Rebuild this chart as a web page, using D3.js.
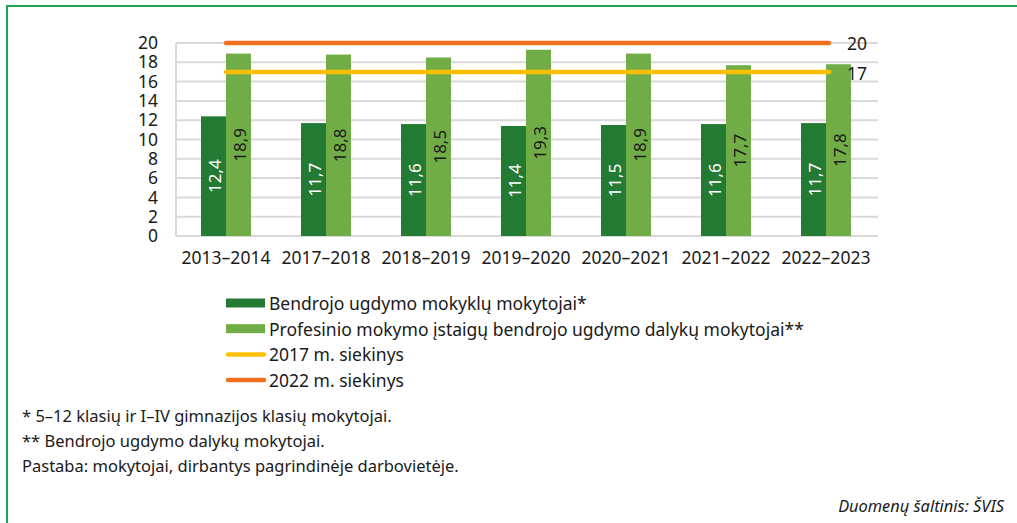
<!DOCTYPE html>
<html><head><meta charset="utf-8">
<script src="https://cdn.jsdelivr.net/npm/d3@7/dist/d3.min.js"></script>
<style>
html,body{margin:0;padding:0;background:#fff;}
svg{display:block;font-family:"Noto Sans",sans-serif;}
</style></head>
<body><svg id="c" width="1017" height="523"></svg>
<script>
const categories = ["2013–2014","2017–2018","2018–2019","2019–2020","2020–2021","2021–2022","2022–2023"];
const general = [12.4,11.7,11.6,11.4,11.5,11.6,11.7];
const vocational = [18.9,18.8,18.5,19.3,18.9,17.7,17.8];
const target2017 = 17;
const target2022 = 20;
const yTicks = [0,2,4,6,8,10,12,14,16,18,20];
const legendLabels = ["Bendrojo ugdymo mokyklų mokytojai*","Profesinio mokymo įstaigų bendrojo ugdymo dalykų mokytojai**","2017 m. siekinys","2022 m. siekinys"];
const notes = ["* 5–12 klasių ir I–IV gimnazijos klasių mokytojai.","** Bendrojo ugdymo dalykų mokytojai.","Pastaba: mokytojai, dirbantys pagrindinėje darbovietėje."];
const source = "Duomenų šaltinis: ŠVIS";

const C = {dark:"#237a33", light:"#70ad47", yellow:"#ffc000", orange:"#f07020", grid:"#d9d9d9", text:"#1a1a1a", border:"#1aa850"};
const fmt = v => String(v.toFixed(1)).replace(".", ",");

const svg = d3.select("#c");
// frame
svg.append("line").attr("x1",7).attr("x2",1017).attr("y1",6).attr("y2",6).attr("stroke",C.border).attr("stroke-width",2);
svg.append("line").attr("x1",7).attr("x2",7).attr("y1",5).attr("y2",523).attr("stroke",C.border).attr("stroke-width",2);

const L=176, R=876, T=43, B=236;
const x = d3.scaleBand().domain(categories).range([L,R]).paddingInner(0).paddingOuter(0);
const y = d3.scaleLinear().domain([0,20]).range([B,T]);
const xs = d3.scaleBand().domain([0,1]).range([0,x.bandwidth()]).paddingOuter(1).paddingInner(0);

// grid
const g = svg.append("g");
g.selectAll("line.grid").data(yTicks).join("line")
 .attr("x1",L).attr("x2",R+2).attr("y1",d=>y(d)).attr("y2",d=>y(d))
 .attr("stroke",C.grid).attr("stroke-width",2);
g.append("line").attr("x1",L).attr("x2",L).attr("y1",T).attr("y2",B).attr("stroke",C.grid).attr("stroke-width",2);

// y axis labels
const yAxis = d3.axisLeft(y).tickValues(yTicks).tickSize(0).tickPadding(18);
const ya = svg.append("g").attr("transform",`translate(${L},0)`).call(yAxis);
ya.select(".domain").remove();
ya.selectAll("text").attr("font-size",17.5).attr("fill",C.text).attr("font-family","Noto Sans");

// x axis labels
const xAxis = d3.axisBottom(x).tickSize(0).tickPadding(0);
const xa = svg.append("g").attr("transform",`translate(0,${B+16})`).call(xAxis);
xa.select(".domain").remove();
xa.selectAll("text").attr("font-size",17.5).attr("fill",C.text).attr("font-family","Noto Sans");

// bars
const series = [{vals:general,color:C.dark,tc:"#fff"},{vals:vocational,color:C.light,tc:C.text}];
series.forEach((s,i)=>{
  const gg = svg.append("g");
  gg.selectAll("rect").data(categories).join("rect")
    .attr("x",c=>x(c)+xs(i)).attr("width",xs.bandwidth())
    .attr("y",(c,j)=>y(s.vals[j])).attr("height",(c,j)=>B-y(s.vals[j]))
    .attr("fill",s.color);
  gg.selectAll("text").data(categories).join("text")
    .attr("transform",(c,j)=>`translate(${x(c)+xs(i)+xs.bandwidth()/2+1},${(y(s.vals[j])+B)/2}) rotate(-90)`)
    .attr("text-anchor","middle").attr("dominant-baseline","central")
    .attr("font-size",17).attr("fill",s.tc).text((c,j)=>fmt(s.vals[j]));
});

// target lines
const x0 = x(categories[0])+x.bandwidth()/2, x1 = x(categories[categories.length-1])+x.bandwidth()/2+3;
[[target2022,C.orange],[target2017,C.yellow]].forEach(([v,col])=>{
  svg.append("line").attr("x1",x0).attr("x2",x1).attr("y1",y(v)).attr("y2",y(v))
    .attr("stroke",col).attr("stroke-width",4.5).attr("stroke-linecap","round");
  svg.append("text").attr("x",R-29).attr("y",y(v)+ (v===17?1:0)).attr("dominant-baseline","central")
    .attr("font-size",17.5).attr("fill",C.text).text(v);
});

// legend
const lg = svg.append("g");
const ly0 = 303, ldy = 25.7, lx = 226;
legendLabels.forEach((t,i)=>{
  const yy = ly0 + i*ldy;
  if(i<2){
    lg.append("rect").attr("x",lx).attr("y",yy-4.5).attr("width",39).attr("height",9).attr("fill",i===0?C.dark:C.light);
  } else {
    lg.append("line").attr("x1",lx+2).attr("x2",lx+38).attr("y1",yy).attr("y2",yy)
      .attr("stroke",i===2?C.yellow:C.orange).attr("stroke-width",4.5).attr("stroke-linecap","round");
  }
  lg.append("text").attr("x",lx+43).attr("y",yy).attr("dominant-baseline","central")
    .attr("font-size",17.5).attr("fill",C.text).text(t);
});

// notes
notes.forEach((t,i)=>{
  svg.append("text").attr("x",22).attr("y",415+i*25).attr("dominant-baseline","central")
    .attr("font-size",16.5).attr("fill",C.text).text(t);
});
svg.append("text").attr("x",1004).attr("y",505).attr("text-anchor","end").attr("dominant-baseline","central")
  .attr("font-size",16.4).attr("font-style","italic").attr("fill",C.text).text(source);
</script></body></html>
